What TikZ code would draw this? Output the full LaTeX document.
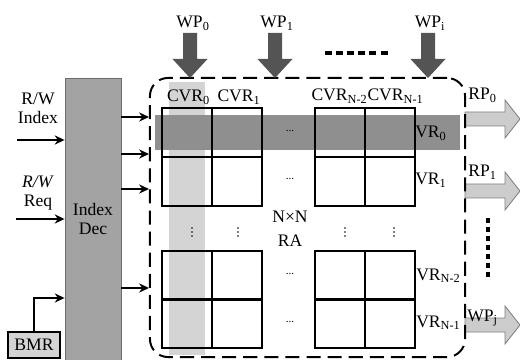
\documentclass[tikz,border=0pt]{standalone}
\usepackage{fontspec}
\setmainfont{Liberation Serif}
\usetikzlibrary{arrows.meta}

\definecolor{decgray}{gray}{0.64}
\definecolor{bandgray}{gray}{0.56}
\definecolor{colgray}{gray}{0.83}
\definecolor{wpgray}{gray}{0.33}
\definecolor{rpgray}{gray}{0.8}
\definecolor{rpedge}{gray}{0.5}

\begin{document}
\begin{tikzpicture}[x=0.025cm, y=-0.025cm, >={Stealth[length=7pt, width=6.5pt]}, font=\fontsize{12.5}{13.4}\selectfont]
    \tikzstyle{lbl} = [inner sep=0pt, anchor=base]
    \tikzstyle{vrlbl} = [inner sep=0pt, anchor=base west]
    \tikzstyle{cell} = [draw, line width=0.9pt]
    \tikzstyle{conn} = [->, line width=1.2pt]
    \tikzstyle{bigdots} = [line width=2.8pt, dash pattern=on 5pt off 2.9pt]
    \tikzstyle{hdots} = [inner sep=0pt, font=\fontsize{8}{8}\selectfont]
    \tikzstyle{decbox} = [draw=gray!85!black, line width=0.6pt, fill=decgray, minimum width=1.4cm, minimum height=7.05cm, align=center]
    \tikzstyle{bmrbox} = [draw, line width=1.3pt, fill=colgray, minimum width=1.3cm, minimum height=0.65cm, inner sep=0pt]
    \tikzstyle{rabox} = [draw, line width=1.4pt, dash pattern=on 10pt off 5pt, rounded corners=0.45cm, minimum width=7.875cm, minimum height=6.975cm]
    \tikzset{
        wparrow/.pic={\fill[wpgray] (0,0) -- (-17.5,-19) -- (-7,-19) -- (-7,-45) -- (7,-45) -- (7,-19) -- (17.5,-19) -- cycle;},
        rparrow/.pic={\filldraw[fill=rpgray, draw=rpedge, line width=0.6pt] (0,-7) -- (40,-7) -- (40,-19) -- (55,0) -- (40,19) -- (40,7) -- (0,7) -- cycle;},
        coldots/.pic={\foreach \d in {-4,0,4} \fill (0,\d) circle (0.8);}
    }

    \useasboundingbox (0,0) rectangle (520,360);
    \clip (0,0) rectangle (520,360);

    \fill[colgray] (169,82) rectangle (205,355);
    \fill[bandgray] (155,115) rectangle (460,150);

    \pic at (465,119) {rparrow};
    \pic at (465,191) {rparrow};
    \pic at (465,325) {rparrow};

    \foreach \x in {162,212,315,365}
        \foreach \y in {108,157,251,299}
            \draw[cell] (\x,\y) rectangle ++(50,49);

    \node[rabox] (ra) at (307.5,217.5) {};

    \pic at (190,78) {wparrow};
    \pic at (275,78) {wparrow};
    \pic at (428,78) {wparrow};

    \node[lbl] (wp0) at (193,28) {WP\textsubscript{0}};
    \node[lbl] (wp1) at (277,28) {WP\textsubscript{1}};
    \node[lbl] (wpi) at (430,28) {WP\textsubscript{i}};
    \draw[bigdots] (325,53) -- (390,53);

    \node[lbl] (cvr0) at (188.5,102) {CVR\textsubscript{0}};
    \node[lbl] (cvr1) at (239,102) {CVR\textsubscript{1}};
    \node[lbl] (cvrn2) at (339.5,101) {CVR\textsubscript{N-2}};
    \node[lbl] (cvrn1) at (395.5,101) {CVR\textsubscript{N-1}};

    \node[vrlbl] (vr0) at (415,138) {VR\textsubscript{0}};
    \node[vrlbl] (vr1) at (415,185) {VR\textsubscript{1}};
    \node[vrlbl] (vrn2) at (416,280) {VR\textsubscript{N-2}};
    \node[vrlbl] (vrn1) at (416,327) {VR\textsubscript{N-1}};

    \node[hdots] (h0) at (290,131) {...};
    \node[hdots] (h1) at (290,179) {...};
    \node[hdots] (h2) at (290,274) {...};
    \node[hdots] (h3) at (290,322) {...};
    \foreach \x in {192,238,345,394}
        \pic at (\x,232) {coldots};
    \node[align=center, inner sep=0pt] (nxn) at (290,229) {N×N\\[4pt]RA};

    \node[vrlbl] (rp0) at (468,100) {RP\textsubscript{0}};
    \node[vrlbl] (rp1) at (468,177) {RP\textsubscript{1}};
    \node[vrlbl] (wpj) at (467,321) {WP\textsubscript{j}};
    \draw[bigdots, dash pattern=on 3.5pt off 2.9pt] (488,218) -- (488,280);

    \node[decbox] (dec) at (93,219) {Index\\Dec};
    \node[bmrbox] (bmr) at (34,345) {BMR};
    \node[align=center, inner sep=0pt] (rwidx) at (38,108) {R/W\\Index};
    \node[align=center, inner sep=0pt] (rwreq) at (38,193) {\textit{R/W}\\Req};

    \coordinate (rwin) at (17,140);
    \coordinate (reqin) at (16,219);
    \draw[conn] (rwin) -- (rwin -| dec.west);
    \draw[conn] (reqin) -- (reqin -| dec.west);
    \draw[conn, line width=0.8pt] (bmr.north) |- (dec.west |- 0,298);
    \foreach \y in {117,154,189,288}
        \draw[conn] (dec.east |- 0,\y) -- (ra.west |- 0,\y);
\end{tikzpicture}
\end{document}
